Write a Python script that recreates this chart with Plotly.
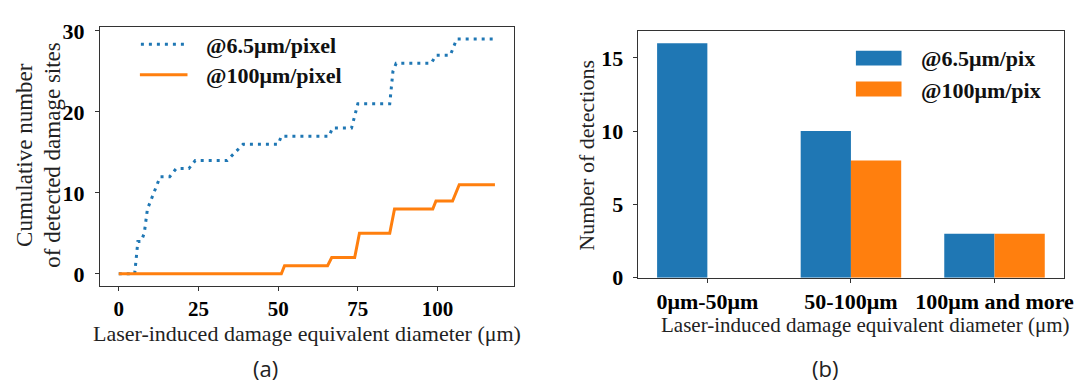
import plotly.graph_objects as go

W, H = 1083, 387

# ---- data: (a) cumulative curves ----
blue_x = [0, 5, 6, 7, 8, 9, 10, 11, 12, 13, 16, 18, 22, 24, 34, 39, 50, 51, 66, 67, 73, 75, 85, 86, 87, 98, 99.5, 104, 106, 118]
blue_y = [0, 0, 4, 4, 5, 8, 9, 10, 11, 12, 12, 13, 13, 14, 14, 16, 16, 17, 17, 18, 18, 21, 21, 25, 26, 26, 27, 27, 29, 29]
orange_x = [0, 51, 52, 65.5, 66.8, 74, 75.5, 85, 86.5, 98.5, 99.5, 104.7, 106.8, 118]
orange_y = [0, 0, 1, 1, 2, 2, 5, 5, 8, 8, 9, 9, 11, 11]
left_xticks = [0, 25, 50, 75, 100]
left_yticks = [0, 10, 20, 30]

# ---- data: (b) histogram ----
categories = ["0μm-50μm", "50-100μm", "100μm and more"]
blue_counts = [16, 10, 3]
orange_counts = [0, 8, 3]
right_yticks = [0, 5, 10, 15]

BLUE = "#1f77b4"
ORANGE = "#ff7f0e"
SERIF = "Liberation Serif"
SANS = "Open Sans"


def px(x):
    return x / W


def py(y):
    return 1 - y / H


fig = go.Figure()
fig.add_trace(go.Scatter(x=blue_x, y=blue_y, mode="lines", xaxis="x", yaxis="y",
                         line=dict(color=BLUE, width=3, dash="3px,5px"), showlegend=False))
fig.add_trace(go.Scatter(x=orange_x, y=orange_y, mode="lines", xaxis="x", yaxis="y",
                         line=dict(color=ORANGE, width=3), showlegend=False))
fig.add_trace(go.Bar(x=categories, y=blue_counts, xaxis="x2", yaxis="y2",
                     marker=dict(color=BLUE, line=dict(width=0)), showlegend=False))
fig.add_trace(go.Bar(x=categories, y=orange_counts, xaxis="x2", yaxis="y2",
                     marker=dict(color=ORANGE, line=dict(width=0)), showlegend=False))

tickfont = dict(family=SERIF, size=22, color="black", weight="bold")
axis_common = dict(showline=True, linecolor="#333", linewidth=1.2, mirror=True,
                   ticks="outside", ticklen=4, tickwidth=1.2, tickcolor="#333",
                   showgrid=False, zeroline=False)

fig.update_layout(
    width=W, height=H,
    margin=dict(l=0, r=0, t=0, b=0),
    paper_bgcolor="white", plot_bgcolor="white",
    barmode="group", bargap=0.3, bargroupgap=0,
    xaxis=dict(domain=[px(92.7), px(510)], range=[-5.9, 123.9],
               tickvals=left_xticks, anchor="y",
               tickfont=dict(family=SERIF, size=21, color="black", weight="bold"), **axis_common),
    yaxis=dict(domain=[py(285), py(12)], range=[-1.45, 30.45],
               tickvals=left_yticks, anchor="x", ticklabelstandoff=6, tickfont=tickfont, **axis_common),
    xaxis2=dict(domain=[px(635), px(1065)], range=[-0.485, 2.485],
                type="category", anchor="y2", tickfont=tickfont, **axis_common),
    yaxis2=dict(domain=[py(276.7), py(16.3)], range=[0, 16.8],
                tickvals=right_yticks, anchor="x2", ticklabelstandoff=5, tickfont=tickfont, **axis_common),
)

ann = []
title_font = dict(family=SERIF, size=22, color="#222")
ann.append(dict(text="Laser-induced damage equivalent diameter (μm)", x=px(301.5), y=py(336),
                xref="paper", yref="paper", showarrow=False, font=title_font,
                xanchor="center", yanchor="middle"))
ann.append(dict(text="Laser-induced damage equivalent diameter (μm)", x=px(865), y=py(327),
                xref="paper", yref="paper", showarrow=False, font=dict(family=SERIF, size=21, color="#222"),
                xanchor="center", yanchor="middle"))
ann.append(dict(text="Cumulative number", x=px(16), y=py(147), textangle=-90,
                xref="paper", yref="paper", showarrow=False, font=dict(family=SERIF, size=23, color="#222"),
                xanchor="center", yanchor="middle"))
ann.append(dict(text="of detected damage sites", x=px(44), y=py(147), textangle=-90,
                xref="paper", yref="paper", showarrow=False, font=dict(family=SERIF, size=23, color="#222"),
                xanchor="center", yanchor="middle"))
ann.append(dict(text="Number of detections", x=px(583), y=py(147.5), textangle=-90,
                xref="paper", yref="paper", showarrow=False, font=dict(family=SERIF, size=22, color="#222"),
                xanchor="center", yanchor="middle"))
# panel labels
ann.append(dict(text="(a)", x=px(260), y=py(372), xref="paper", yref="paper", showarrow=False,
                font=dict(family=SANS, size=22, color="#222"), xanchor="center", yanchor="middle"))
ann.append(dict(text="(b)", x=px(824), y=py(372), xref="paper", yref="paper", showarrow=False,
                font=dict(family=SANS, size=22, color="#222"), xanchor="center", yanchor="middle"))

legfont = dict(family=SERIF, size=22, color="#111", weight="bold")
# legend (a)
ann.append(dict(text="@6.5μm/pixel", x=px(198), y=py(31), xref="paper", yref="paper", showarrow=False,
                font=legfont, xanchor="left", yanchor="middle"))
ann.append(dict(text="@100μm/pixel", x=px(198), y=py(63), xref="paper", yref="paper", showarrow=False,
                font=legfont, xanchor="left", yanchor="middle"))
# legend (b)
ann.append(dict(text="@6.5μm/pix", x=px(919), y=py(45), xref="paper", yref="paper", showarrow=False,
                font=legfont, xanchor="left", yanchor="middle"))
ann.append(dict(text="@100μm/pix", x=px(919), y=py(79), xref="paper", yref="paper", showarrow=False,
                font=legfont, xanchor="left", yanchor="middle"))

shapes = [
    dict(type="line", xref="paper", yref="paper", x0=px(134), x1=px(178), y0=py(30), y1=py(30),
         line=dict(color=BLUE, width=3, dash="3px,5px")),
    dict(type="line", xref="paper", yref="paper", x0=px(133), x1=px(181), y0=py(62), y1=py(62),
         line=dict(color=ORANGE, width=3)),
    dict(type="rect", xref="paper", yref="paper", x0=px(855), x1=px(901), y0=py(52.3), y1=py(36.7),
         line=dict(width=0), fillcolor=BLUE),
    dict(type="rect", xref="paper", yref="paper", x0=px(855), x1=px(901), y0=py(85), y1=py(69.3),
         line=dict(width=0), fillcolor=ORANGE),
]

fig.update_layout(annotations=ann, shapes=shapes)
fig.write_html("out.html")
